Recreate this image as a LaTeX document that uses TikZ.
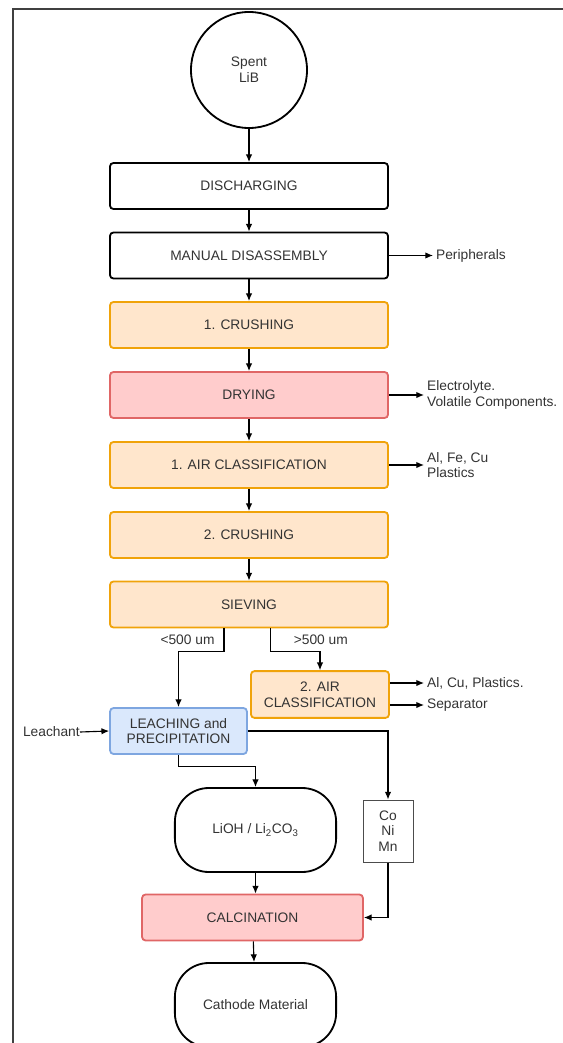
\documentclass[tikz,border=0pt]{standalone}
\usepackage{fontspec}
\setmainfont{Liberation Sans}
\usepackage{tikz}
\usetikzlibrary{calc,arrows.meta,shapes,positioning}

\definecolor{txtgray}{HTML}{333333}
\definecolor{orangefill}{HTML}{FFE6CC}
\definecolor{orangeline}{HTML}{F0A30A}
\definecolor{redfill}{HTML}{FFCCCC}
\definecolor{redline}{HTML}{E06666}
\definecolor{bluefill}{HTML}{DAE8FC}
\definecolor{blueline}{HTML}{7EA6E0}

\tikzset{
  stepbox/.style={draw=black,line width=1.3pt,rounded corners=2.5pt,fill=white,
    minimum width=6.95cm,minimum height=1.15cm,align=center,text=txtgray},
  orangebox/.style={stepbox,draw=orangeline,fill=orangefill},
  redbox/.style={stepbox,draw=redline,fill=redfill},
  bluebox/.style={stepbox,draw=blueline,fill=bluefill,minimum width=3.42cm,minimum height=1.15cm},
  prodbox/.style={draw=black,line width=1.3pt,rounded corners=0.85cm,
    minimum width=4.03cm,minimum height=2.1cm,text=txtgray},
  outtext/.style={anchor=west,align=left,inner sep=2pt,text=txtgray},
  arr/.style={-{Latex[length=5.5pt,width=4.6pt]},line width=0.8pt}
}

\begin{document}
\begin{tikzpicture}[x=0.025cm,y=-0.025cm,font=\fontsize{9.8}{11.2}\selectfont]
    \clip (0,0) rectangle (563,1043);
    \draw[black!75,line width=1.1pt] (13,1050) -- (13,9) -- (570,9);

    \node[circle,draw=black,line width=1.3pt,minimum size=2.9cm,align=center,text=txtgray] (spent) at (249,70) {Spent\\LiB};
    \node[stepbox] (disch) at (249,186) {DISCHARGING};
    \node[stepbox] (manual) at (249,255.5) {MANUAL DISASSEMBLY};
    \node[orangebox] (crush1) at (249,325) {1. CRUSHING};
    \node[redbox] (drying) at (249,395) {DRYING};
    \node[orangebox] (aircl1) at (249,465) {1. AIR CLASSIFICATION};
    \node[orangebox] (crush2) at (249,535) {2. CRUSHING};
    \node[orangebox] (sieving) at (249,604.5) {SIEVING};
    \node[orangebox,minimum width=3.45cm,minimum height=1.17cm] (aircl2) at (320,694.5) {2. AIR\\CLASSIFICATION};
    \node[bluebox] (leach) at (178.5,731) {LEACHING and\\PRECIPITATION};
    \node[prodbox] (lioh) at (255.5,830) {LiOH / Li\textsubscript{2}CO\textsubscript{3}};
    \node[draw=black!70,line width=0.7pt,fill=white,minimum width=1.25cm,minimum height=1.55cm,align=center,text=txtgray] (metals) at (388,831) {Co\\Ni\\Mn};
    \node[redbox,minimum width=5.52cm] (calc) at (252.5,917.5) {CALCINATION};
    \node[prodbox] (cathode) at (255.5,1005) {Cathode Material};

    % side streams
    \node[outtext] (periph) at (433,255.5) {Peripherals};
    \node[outtext] (volatile) at (424,395) {Electrolyte.\\Volatile Components.};
    \node[outtext] (scrap1) at (424,465) {Al, Fe, Cu\\Plastics};
    \node[outtext] (scrap2) at (424,683) {Al, Cu, Plastics.};
    \node[outtext] (separ) at (424,705) {Separator};
    \node[anchor=east,inner sep=0pt,text=txtgray] (leachant) at (80,732) {Leachant};

    \draw[arr] (spent) edge (disch)
    (disch) edge (manual)
    (manual) edge (crush1)
    (crush1) edge (drying)
    (drying) edge (aircl1)
    (aircl1) edge (crush2)
    (crush2) edge (sieving);

    \draw[arr] (manual.east) -- (periph.west);
    \draw[arr] (drying.east) -- (volatile.west);
    \draw[arr] (aircl1.east) -- (scrap1.west);
    \draw[arr] (aircl2.east |- scrap2.west) -- (scrap2.west);
    \draw[arr] (aircl2.east |- separ.west) -- (separ.west);
    \draw[arr] (leachant.east) -- (leach.west);

    \draw[arr] ([xshift=-0.625cm]sieving.south) -- ++(0,23) node[midway,left=3pt,text=txtgray] {<500 um} -| (leach.north);
    \draw[arr] ([xshift=0.54cm]sieving.south) -- ++(0,23) node[midway,right=0.45cm,text=txtgray] {>500 um} -| (aircl2.north);
    \draw[arr] (leach.east) -| (metals.north);
    \draw[arr] (leach.south) -- ++(0,12) -| (lioh.north);
    \draw[arr] (lioh.south) -- (lioh.south |- calc.north);
    \draw[arr] (metals.south) |- (calc.east);
    \draw[arr] (calc) -- (cathode);
  \end{tikzpicture}
\end{document}
